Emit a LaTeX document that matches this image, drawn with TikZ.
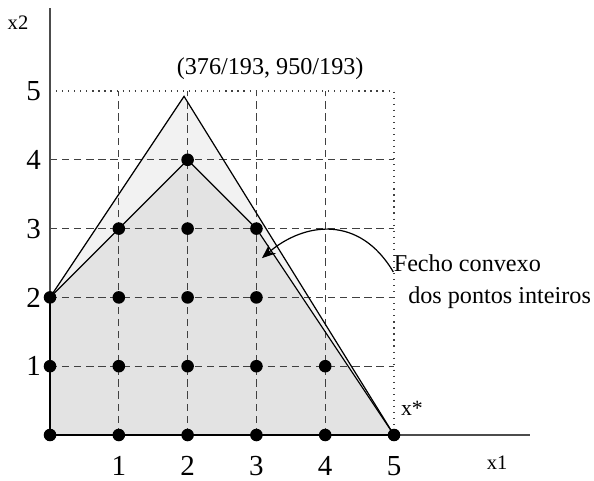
\documentclass[tikz,border=0pt]{standalone}
\usepackage{fontspec}
\setmainfont{Liberation Serif}
\usepackage{tikz}
\usetikzlibrary{arrows.meta,positioning,calc}

\begin{document}
\begin{tikzpicture}[font=\fontsize{10}{12}\selectfont]
\useasboundingbox (-0.727,-0.654) rectangle (7.907,6.323);
\tikzset{dot/.style={circle,fill=black,inner sep=0pt,minimum size=5.2pt}}
\tikzset{gridln/.style={black!75,densely dashed,line width=0.4pt}}
\tikzset{border/.style={black!75,dotted,line width=0.5pt}}
\tikzset{small/.style={font=\fontsize{8.5}{10}\selectfont}}
\tikzset{tick/.style={font=\fontsize{12}{14}\selectfont,inner sep=0pt}}
% regions
\coordinate (apex) at (376/193,950/193);
\fill[gray!10] (0,2) -- (apex) -- (5,0) -- cycle;
\fill[gray!22] (0,0) -- (0,2) -- (2,4) -- (3,3) -- (5,0) -- cycle;
% grid
\foreach \i in {1,...,4} {
  \draw[gridln] (\i,0) -- (\i,5);
  \draw[gridln] (0,\i) -- (5,\i);
}
\draw[border] (0,5) -- (5,5) -- (5,0);
% axes
\coordinate (o) at (0,0);
\coordinate (xend) at (6.98,0);
\coordinate (yend) at (0,6.21);
\draw[black!70,line width=0.5pt] (o) -- (xend);
\draw[black!70,line width=0.5pt] (o) -- (yend);
\draw[line width=1pt] (0,2) -- (o) -- (5,0);
% polygons
\draw[line width=0.5pt] (0,2) -- (apex) -- (5,0);
\draw[line width=0.5pt] (0,2) -- (2,4) -- (3,3) -- (5,0);
% integer points
\foreach \x/\y in {0/0,1/0,2/0,3/0,4/0,5/0,0/1,1/1,2/1,3/1,4/1,0/2,1/2,2/2,3/2,1/3,2/3,3/3,2/4}
  \node[dot] (p\x\y) at (\x,\y) {};
% tick labels
\foreach \k in {1,...,5} {
  \node[tick] (ty\k) at (-0.24,\k) {\k};
  \node[tick] (tx\k) at (\k,-0.45) {\k};
}
\node[small] (lx2) at (-0.465,6.0) {x2};
\node[small] (lx1) at (6.5,-0.41) {x1};
\node[font=\fontsize{9}{11}\selectfont] (lxs) at (5.26,0.38) {x*};
\node (lapex) at (3.2,5.32) {(376/193, 950/193)};
% hull label
\node[anchor=west,inner sep=0pt] (fecho) at (4.99,2.49) {Fecho convexo};
\node[anchor=west,inner sep=0pt] (dos) at (5.2,2.0) {dos pontos inteiros};
\coordinate (tip) at (3.08,2.57);
\draw[-{Stealth[length=2mm,width=1.6mm]},line width=0.5pt] (fecho.west) ++(0,-0.12) .. controls (4.5,3.2) and (3.7,3.1) .. (tip);
\end{tikzpicture}
\end{document}
